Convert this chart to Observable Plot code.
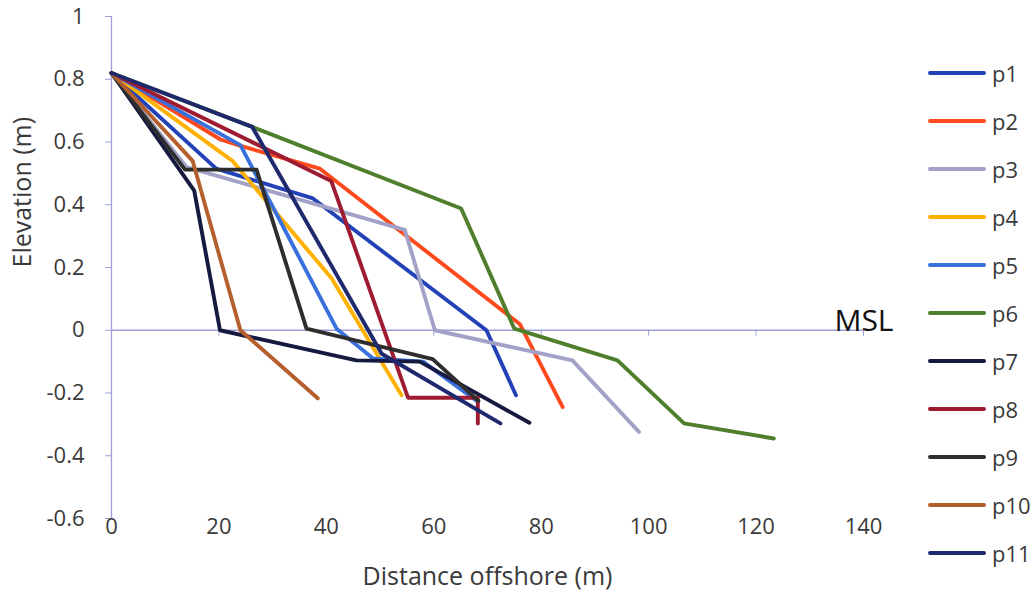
<!DOCTYPE html>
<html><head><meta charset="utf-8">
<script src="https://cdn.jsdelivr.net/npm/d3@7"></script>
<script src="https://cdn.jsdelivr.net/npm/@observablehq/plot@0.6"></script>
<style>
body{margin:0;background:#fff;font-family:"Open Sans",sans-serif;}
#wrap{position:relative;width:1036px;height:606px;overflow:hidden;}
#legend{position:absolute;left:928px;top:0;}
.row{position:absolute;left:0;height:28px;display:flex;align-items:center;white-space:nowrap;}
.sw{width:58px;height:4px;border-radius:2px;}
.lab{margin-left:6px;font-size:22px;color:#3a3a3a;}
</style></head><body><div id="wrap"><div id="legend"></div></div>
<script>
// ---- data (distance offshore m, elevation m) ----
const seriesNames = ["p1","p2","p3","p4","p5","p6","p7","p8","p9","p10","p11"];
const seriesColors = ["#2342b8","#ff4a1e","#a2a2c8","#ffb000","#3a70dc","#4f7f2c","#161a40","#9e1b32","#2e2e2e","#b55f2e","#1f2a6e"];
const p1 = [[0,0.82],[19.5,0.515],[37.5,0.42],[69.8,0],[75.3,-0.207]];
const p2 = [[0,0.82],[20.3,0.608],[23.6,0.59],[38.8,0.515],[76,0.02],[84,-0.245]];
const p3 = [[0,0.82],[14,0.52],[54.6,0.32],[60.2,0],[85.8,-0.096],[98.2,-0.324]];
const p4 = [[0,0.82],[22.5,0.54],[41,0.165],[54,-0.207]];
const p5 = [[0,0.82],[24,0.59],[41.9,0.005],[48.7,-0.09],[58,-0.1],[68,-0.225]];
const p6 = [[0,0.82],[26.2,0.648],[65.1,0.388],[75,0.005],[94.2,-0.096],[106.6,-0.297],[123.3,-0.345]];
const p7 = [[0,0.82],[15.4,0.445],[20.2,0],[45.6,-0.096],[57.4,-0.1],[77.8,-0.295]];
const p8 = [[0,0.82],[40.9,0.476],[55.2,-0.215],[68.2,-0.215],[68.2,-0.297]];
const p9 = [[0,0.82],[13.7,0.512],[27,0.512],[36.3,0.005],[59.8,-0.092],[68.3,-0.225]];
const p10 = [[0,0.82],[15.1,0.54],[24,0],[38.4,-0.217]];
const p11 = [[0,0.82],[26.2,0.648],[50.3,-0.075],[72.4,-0.297]];
const seriesValues = [p1,p2,p3,p4,p5,p6,p7,p8,p9,p10,p11];
const xTicks = [0,20,40,60,80,100,120,140];
const yTicks = [1,0.8,0.6,0.4,0.2,0,-0.2,-0.4,-0.6];
const xTitle = "Distance offshore (m)";
const yTitle = "Elevation (m)";
const annotations = [{label:"MSL", x:140, y:0}];

// ---- table ----
const rows = [];
seriesValues.forEach((s, k) => s.forEach(([x, y], i) => rows.push({series: seriesNames[k], order: i, x, y})));

const W = 1036, H = 606, mL = 111, mR = 173, mT = 16, mB = 88;
const yDomain = [yTicks[yTicks.length - 1], yTicks[0]];
const plotH = H - mT - mB;
const zeroUp = plotH * (0 - yDomain[0]) / (yDomain[1] - yDomain[0]);
const axisColor = "#9d9fd6";
const textColor = "#3a3a3a";

const chart = Plot.plot({
  width: W, height: H,
  marginLeft: mL, marginRight: mR, marginTop: mT, marginBottom: mB,
  x: {domain: [xTicks[0], xTicks[xTicks.length - 1]]},
  y: {domain: yDomain},
  color: {domain: seriesNames, range: seriesColors},
  style: {fontFamily: '"Open Sans", sans-serif', fontSize: "22px", color: textColor, background: "#fff", overflow: "visible"},
  marks: [
    Plot.ruleX([xTicks[0]], {stroke: axisColor, strokeWidth: 1.3}),
    Plot.ruleY([0], {x1: xTicks[0], x2: xTicks[xTicks.length - 1], stroke: axisColor, strokeWidth: 1.3}),
    Plot.axisY({ticks: yTicks, tickSize: 6, tickPadding: 21, tickFormat: d => String(d), stroke: axisColor, fill: textColor, label: null, fontSize: 22}),
    Plot.axisX({ticks: xTicks, anchor: "bottom", tickSize: 6, dy: -zeroUp, tickFormat: () => "", stroke: axisColor, label: null}),
    Plot.axisX({ticks: xTicks, anchor: "bottom", tickSize: 0, tickPadding: 0, tickFormat: d => String(d), fill: textColor, label: null, fontSize: 22}),
    Plot.line(rows, {x: "x", y: "y", z: "series", stroke: "series", strokeWidth: 3.9, strokeLinejoin: "round", strokeLinecap: "round"}),
    Plot.text(annotations, {x: "x", y: "y", text: "label", textAnchor: "end", lineAnchor: "bottom", dy: 1, dx: 30, fontSize: 30, fill: "#111"}),
    Plot.text([xTitle], {frameAnchor: "bottom", dy: 66, fontSize: 25, fill: textColor}),
    Plot.text([yTitle], {frameAnchor: "left", rotate: -90, dx: -89, dy: 0, fontSize: 25, fill: textColor})
  ]
});
document.getElementById("wrap").prepend(chart);

// ---- legend ----
const legend = document.getElementById("legend");
seriesNames.forEach((name, i) => {
  const row = document.createElement("div");
  row.className = "row";
  row.style.top = (72.7 + 48.05 * i - 14) + "px";
  const sw = document.createElement("div");
  sw.className = "sw";
  sw.style.background = seriesColors[i];
  const lab = document.createElement("span");
  lab.className = "lab";
  lab.textContent = name;
  row.append(sw, lab);
  legend.append(row);
});
</script>
</body></html>
